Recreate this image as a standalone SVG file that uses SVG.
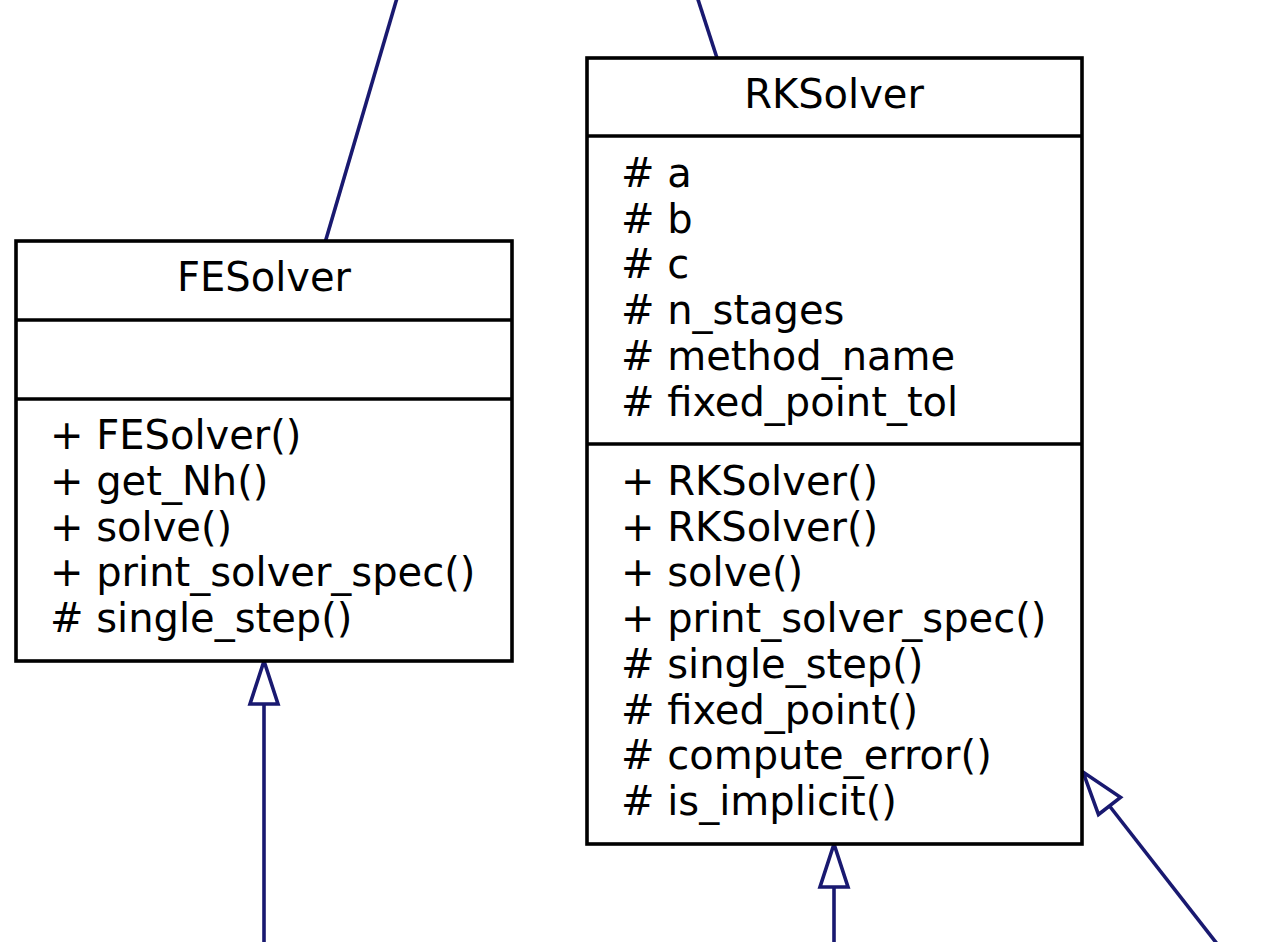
<svg xmlns="http://www.w3.org/2000/svg" width="1274" height="942" viewBox="0 0 1274 942">
<style>
.box{fill:#ffffff;stroke:#000000;stroke-width:3.6;}
.div{stroke:#000000;stroke-width:3.6;fill:none;}
.t{font-family:"DejaVu Sans",sans-serif;font-size:40px;fill:#000000;}
.c{text-anchor:middle;}
.edge{stroke:#191970;stroke-width:3.6;fill:none;}
.head{stroke:#191970;stroke-width:3.6;fill:#ffffff;}
</style>
<rect width="1274" height="942" fill="#ffffff"/>
<g id="connectors">
<line class="edge" x1="397" y1="-2" x2="325.5" y2="241"/>
<line class="edge" x1="697.5" y1="-2" x2="717" y2="58"/>
<line class="edge" x1="264" y1="704" x2="264" y2="944"/>
<polygon class="head" points="264,661 250,704 278,704"/>
<line class="edge" x1="834" y1="887" x2="834" y2="944"/>
<polygon class="head" points="834,844 820,887 848,887"/>
<line class="edge" x1="1109.5" y1="806" x2="1218" y2="945"/>
<polygon class="head" points="1083,772 1098.5,814.5 1120.5,797.3"/>
</g>
<g id="FESolver">
<rect class="box" x="16" y="241" width="496" height="420"/>
<line class="div" x1="16" y1="320" x2="512" y2="320"/>
<line class="div" x1="16" y1="399" x2="512" y2="399"/>
<text class="t c" x="264" y="291">FESolver</text>
<text class="t" x="50" y="449">+ FESolver()</text>
<text class="t" x="50" y="495">+ get_Nh()</text>
<text class="t" x="50" y="540.5">+ solve()</text>
<text class="t" x="50" y="586">+ print_solver_spec()</text>
<text class="t" x="50" y="632"># single_step()</text>
</g>
<g id="RKSolver">
<rect class="box" x="587" y="58" width="495" height="786"/>
<line class="div" x1="587" y1="136" x2="1082" y2="136"/>
<line class="div" x1="587" y1="444" x2="1082" y2="444"/>
<text class="t c" x="834" y="108">RKSolver</text>
<text class="t" x="621" y="187"># a</text>
<text class="t" x="621" y="232.7"># b</text>
<text class="t" x="621" y="278.4"># c</text>
<text class="t" x="621" y="324.1"># n_stages</text>
<text class="t" x="621" y="369.8"># method_name</text>
<text class="t" x="621" y="415.5"># fixed_point_tol</text>
<text class="t" x="621" y="495">+ RKSolver()</text>
<text class="t" x="621" y="540.7">+ RKSolver()</text>
<text class="t" x="621" y="586.4">+ solve()</text>
<text class="t" x="621" y="632.1">+ print_solver_spec()</text>
<text class="t" x="621" y="677.8"># single_step()</text>
<text class="t" x="621" y="723.5"># fixed_point()</text>
<text class="t" x="621" y="769.2"># compute_error()</text>
<text class="t" x="621" y="814.9"># is_implicit()</text>
</g>
</svg>
